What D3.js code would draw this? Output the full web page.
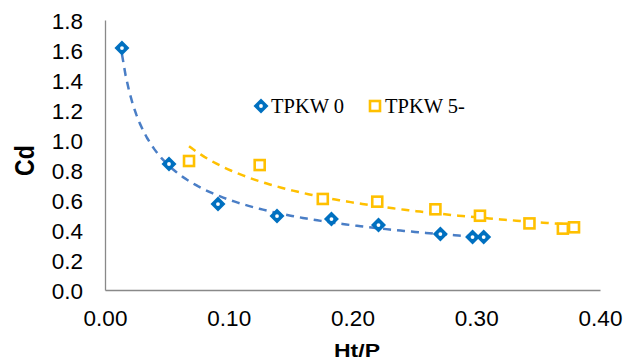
<!DOCTYPE html>
<html><head><meta charset="utf-8">
<script src="https://cdn.jsdelivr.net/npm/d3@7"></script>
<style>body{margin:0;background:#fff}</style>
</head><body>
<svg id="c" width="637" height="362"></svg>
<script>
const seriesNames = ["TPKW 0", "TPKW 5-"];
const tpkw0X = [0.0137, 0.0517, 0.0913, 0.139, 0.183, 0.221, 0.271, 0.297, 0.306];
const tpkw0Y = [1.613, 0.840, 0.573, 0.493, 0.473, 0.433, 0.373, 0.353, 0.353];
const tpkw5X = [0.0679, 0.125, 0.176, 0.220, 0.267, 0.303, 0.343, 0.370, 0.379];
const tpkw5Y = [0.860, 0.833, 0.607, 0.589, 0.538, 0.495, 0.444, 0.409, 0.418];
const xTicks = [0, 0.1, 0.2, 0.3, 0.4];
const yTicks = [0, 0.2, 0.4, 0.6, 0.8, 1.0, 1.2, 1.4, 1.6, 1.8];

const svg = d3.select("#c");
const x = d3.scaleLinear().domain([0, 0.4]).range([105, 600]);
const y = d3.scaleLinear().domain([0, 1.8]).range([290, 20]);
const sans = "Liberation Sans, Arial, sans-serif";

// axes
const xa = svg.append("g").attr("transform","translate(0,290)")
  .call(d3.axisBottom(x).tickValues(xTicks).tickSize(0).tickPadding(20).tickFormat(d3.format(".2f")));
const ya = svg.append("g").attr("transform","translate(105,0)")
  .call(d3.axisLeft(y).tickValues(yTicks).tickSize(0).tickPadding(22).tickFormat(d3.format(".1f")));
[xa, ya].forEach(a => {
  a.select(".domain").attr("stroke","#898989").attr("stroke-width",1.3);
  a.selectAll("text").attr("font-family",sans).attr("font-size",22.5).attr("fill","#000");
});
ya.selectAll("text").attr("dy","0.37em");

svg.append("text").attr("x",357).attr("y",357).attr("text-anchor","middle")
  .attr("font-family",sans).attr("font-weight","bold").attr("font-size",17.5)
  .attr("textLength",46).attr("lengthAdjust","spacingAndGlyphs").text("Ht/P");
svg.append("text").attr("transform","translate(34,160.5) rotate(-90) scale(1.05,1.25)").attr("text-anchor","middle")
  .attr("font-family",sans).attr("font-weight","bold").attr("font-size",22).text("Cd");

// power trendlines
function powerFit(xs, ys){
  const lx = xs.map(Math.log), ly = ys.map(Math.log);
  const mx = d3.mean(lx), my = d3.mean(ly);
  const b = d3.sum(lx.map((v,i)=>(v-mx)*(ly[i]-my))) / d3.sum(lx.map(v=>(v-mx)*(v-mx)));
  const a = Math.exp(my - b*mx);
  return t => a*Math.pow(t,b);
}
function trend(xs, ys, color){
  const f = powerFit(xs, ys);
  const pts = d3.range(0,101).map(i => { const t = d3.min(xs) + (d3.max(xs)-d3.min(xs))*i/100; return [t, f(t)]; });
  svg.append("path").attr("d", d3.line().x(d=>x(d[0])).y(d=>y(d[1]))(pts))
    .attr("fill","none").attr("stroke",color).attr("stroke-width",2.5).attr("stroke-dasharray","8,6");
}
trend(tpkw0X, tpkw0Y, "#4A7EC6");
trend(tpkw5X, tpkw5Y, "#FFC000");

// markers
const diamond = (cx, cy, r) => `M${cx},${cy-r}L${cx+r},${cy}L${cx},${cy+r}L${cx-r},${cy}Z`;
function diamondMark(cx, cy){
  svg.append("path").attr("d", diamond(cx, cy, 7.5)).attr("fill","#0070C0");
  svg.append("circle").attr("cx",cx).attr("cy",cy).attr("r",1.9).attr("fill","#fff");
}
function squareMark(cx, cy){
  svg.append("rect").attr("x", cx-5).attr("y", cy-5).attr("width",10).attr("height",10)
    .attr("fill","#fff").attr("stroke","#FFC000").attr("stroke-width",2.6);
}
tpkw0X.forEach((v,i)=>diamondMark(x(v), y(tpkw0Y[i])));
tpkw5X.forEach((v,i)=>squareMark(x(v), y(tpkw5Y[i])));

// legend
diamondMark(261,106);
svg.append("text").attr("x",271).attr("y",113).attr("font-family","Liberation Serif, Times New Roman, serif").attr("font-size",20.5).text(seriesNames[0]);
squareMark(375,106);
svg.append("text").attr("x",385).attr("y",113).attr("font-family","Liberation Serif, Times New Roman, serif").attr("font-size",20.5).text(seriesNames[1]);
</script>
</body></html>
